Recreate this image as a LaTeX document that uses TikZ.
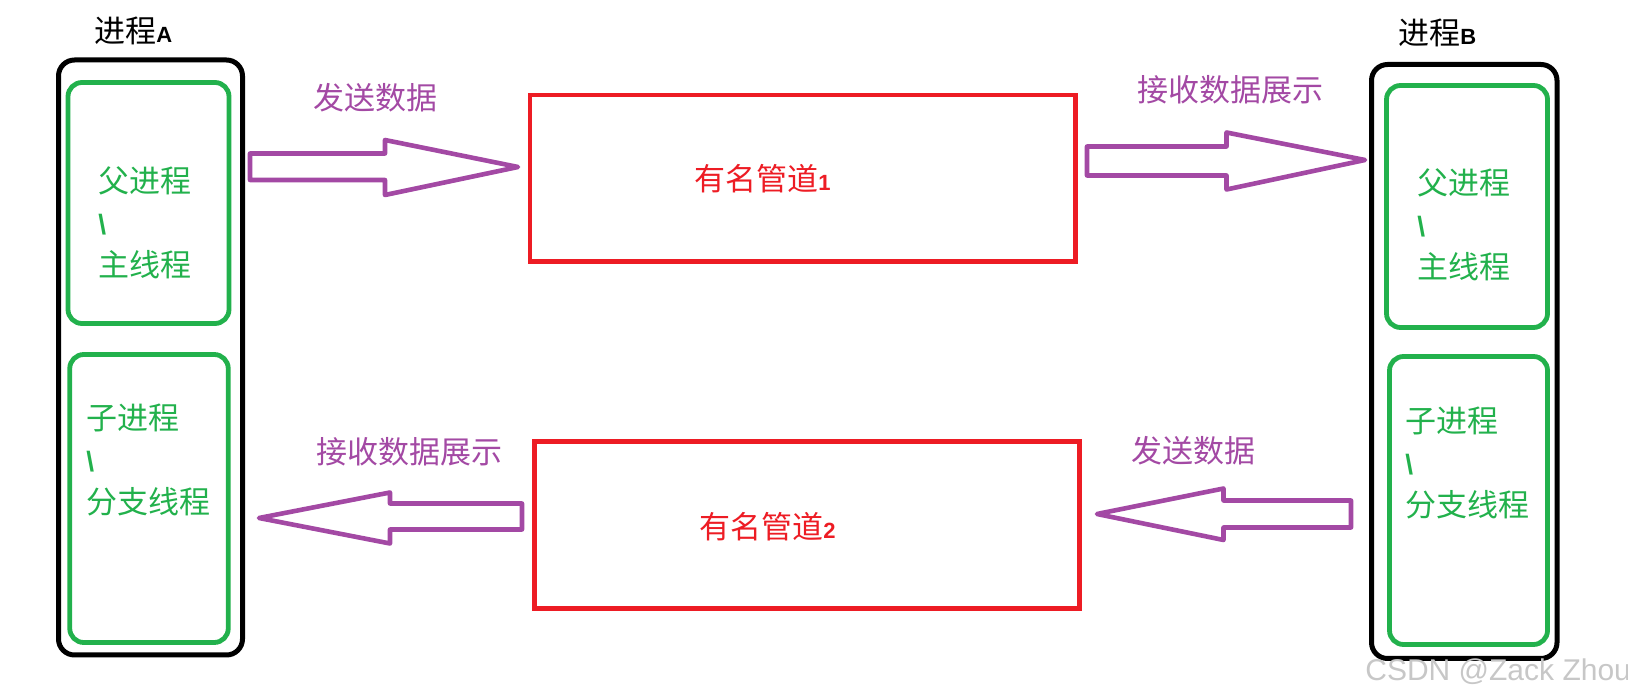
\documentclass[tikz,border=0pt]{standalone}
\usepackage{fontspec}
\setmainfont{Noto Sans CJK SC}
\newfontfamily\markfont{Liberation Sans}
\usepackage{xcolor}
\usetikzlibrary{positioning}

\definecolor{procgreen}{HTML}{22B14C}
\definecolor{pipered}{HTML}{ED1C24}
\definecolor{flowpurple}{HTML}{A349A4}

\newcommand{\smallbold}[1]{{\markfont\bfseries\fontsize{11pt}{13pt}\selectfont #1}}
\newcommand{\slashmark}{{\markfont\bfseries\fontsize{14pt}{16pt}\selectfont\textbackslash}}

\begin{document}
\begin{tikzpicture}[x=0.5pt, y=-0.5pt,
        cjk/.style={font=\fontsize{15.5pt}{21pt}\selectfont, inner sep=0pt, anchor=west},
        procbox/.style={draw=black, line width=2.5pt, rounded corners=8pt, inner sep=0pt},
        threadbox/.style={draw=procgreen, line width=2.4pt, rounded corners=7pt, inner sep=0pt},
        pipebox/.style={draw=pipered, line width=2.3pt, inner sep=0pt},
        fatarrow/.style={draw=flowpurple, line width=2.3pt, fill=white, line join=round},
        threadtext/.style={cjk, text=procgreen, align=left},
        flowtext/.style={cjk, text=flowpurple},
        pipetext/.style={cjk, text=pipered}]
        \useasboundingbox (0,0) rectangle (1628,699);

        % Processes
        \node[procbox, minimum width=92pt, minimum height=297.5pt] (procA) at (150.5,357.5) {};
        \node[procbox, minimum width=92.75pt, minimum height=297pt] (procB) at (1464.25,361.5) {};
        \node[cjk] (titleA) at (94,31) {进程\smallbold{A}};
        \node[cjk] (titleB) at (1398,33) {进程\smallbold{B}};

        % Threads
        \node[threadbox, minimum width=80.5pt, minimum height=120.5pt] (mainA) at (148.5,203) {};
        \node[threadbox, minimum width=79.25pt, minimum height=144pt] (childA) at (149,498.5) {};
        \node[threadbox, minimum width=80.5pt, minimum height=121pt] (mainB) at (1467,206.5) {};
        \node[threadbox, minimum width=79pt, minimum height=144pt] (childB) at (1468.5,500.5) {};

        \node[threadtext] (mainAtext) at (98,223) {父进程\\\slashmark\\主线程};
        \node[threadtext] (childAtext) at (86,460) {子进程\\\slashmark\\分支线程};
        \node[threadtext] (mainBtext) at (1417,225) {父进程\\\slashmark\\主线程};
        \node[threadtext] (childBtext) at (1405,463) {子进程\\\slashmark\\分支线程};

        % Named pipes
        \node[pipebox, minimum width=272.75pt, minimum height=83.25pt] (pipe1) at (802.75,178.25) {};
        \node[pipebox, minimum width=272.5pt, minimum height=83.5pt] (pipe2) at (807,525) {};
        \node[pipetext] (pipe1text) at (694,179) {有名管道\smallbold{1}};
        \node[pipetext] (pipe2text) at (699,526.5) {有名管道\smallbold{2}};

        % Data flow arrows
        \draw[fatarrow] (250,153.5) -- (385,153.5) -- (385,140) -- (518,167) -- (385,195) -- (385,180) -- (250,180) -- cycle;
        \draw[fatarrow] (1087,146.5) -- (1226.5,146.5) -- (1226.5,132.5) -- (1365,160) -- (1226.5,189.5) -- (1226.5,175.5) -- (1087,175.5) -- cycle;
        \draw[fatarrow] (522,503.5) -- (390,503.5) -- (390,492.5) -- (259,518) -- (390,543.5) -- (390,529.5) -- (522,529.5) -- cycle;
        \draw[fatarrow] (1351,500.5) -- (1223.5,500.5) -- (1223.5,488.5) -- (1097,514) -- (1223.5,540) -- (1223.5,527.5) -- (1351,527.5) -- cycle;

        \node[flowtext] (sendA) at (313,97.5) {发送数据};
        \node[flowtext] (showB) at (1137,90) {接收数据展示};
        \node[flowtext] (showA) at (316,451.5) {接收数据展示};
        \node[flowtext] (sendB) at (1131,451) {发送数据};

        % Watermark
        \node[anchor=west, inner sep=0pt, text=black!22, font=\markfont\fontsize{15pt}{18pt}\selectfont] (mark) at (1365,671.5) {CSDN @Zack Zhou};
    \end{tikzpicture}
\end{document}
